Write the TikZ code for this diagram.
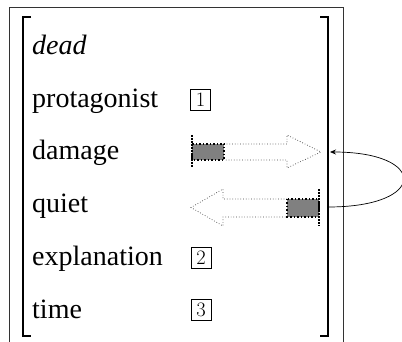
\documentclass[tikz,border=0pt]{standalone}
\usepackage{fontspec}
\newfontfamily\timesfont{Liberation Serif}
\usetikzlibrary{arrows.meta}
\tikzset{
  attr/.style={anchor=base west, inner sep=0pt, font=\timesfont\fontsize{28}{34}\selectfont},
  tag/.style={draw, line width=0.7pt, minimum width=20pt, minimum height=21pt, inner sep=0pt, font=\fontsize{20.5}{22}\selectfont},
  slot/.style={fill=gray, draw=black, line width=1.5pt, dotted},
  hollow/.style={draw=black!75, line width=0.7pt, dotted},
  edgebar/.style={line width=1.5pt, dash pattern=on 2pt off 1pt},
  brk/.style={line width=1.6pt}
}
\begin{document}
\begin{tikzpicture}[x=1pt, y=-1pt]
        \useasboundingbox (0,0) rectangle (402,342);
        % Frame and brackets
        \draw[line width=0.8pt, black!80] (9,342) -- (9,7) -- (343,7) -- (343,342);
        \draw[brk] (31,17) -- (23,17) -- (23,336) -- (31,336);
        \draw[brk] (320,17) -- (328,17) -- (328,336) -- (320,336);

        % Nodes
        \node[attr] (dead) at (32,55) {\itshape dead};
        \node[attr] (prot) at (32,107.5) {protagonist};
        \node[attr] (dmg) at (32,160) {damage};
        \node[attr] (quiet) at (32,213) {quiet};
        \node[attr] (expl) at (32,265.5) {explanation};
        \node[attr] (time) at (32,318) {time};
        \node[tag] (t1) at (200.5,99.5) {1};
        \node[tag] (t2) at (201,258) {2};
        \node[tag] (t3) at (201,310) {3};

        % damage arrow
        \draw[hollow] (224,144) -- (287,144) -- (287,135) -- (321,152) -- (287,168) -- (287,160) -- (224,160);
        \draw[slot] (192,144) rectangle (224,160);
        \draw[edgebar] (192,135) -- (192,168);

        % quiet arrow
        \draw[hollow] (287,199) -- (223,199) -- (223,189) -- (191,207.5) -- (223,226) -- (223,217) -- (287,217);
        \draw[slot] (287,199) rectangle (319,217);
        \draw[edgebar] (319,189) -- (319,226);

        % Edges
        \coordinate (qend) at (328,207);
        \coordinate (dtip) at (330,152);
        \draw[-{Stealth[length=6pt, width=5pt]}, line width=0.7pt] (qend) .. controls (428,207) and (428,152) .. (dtip);
    \end{tikzpicture}
\end{document}
